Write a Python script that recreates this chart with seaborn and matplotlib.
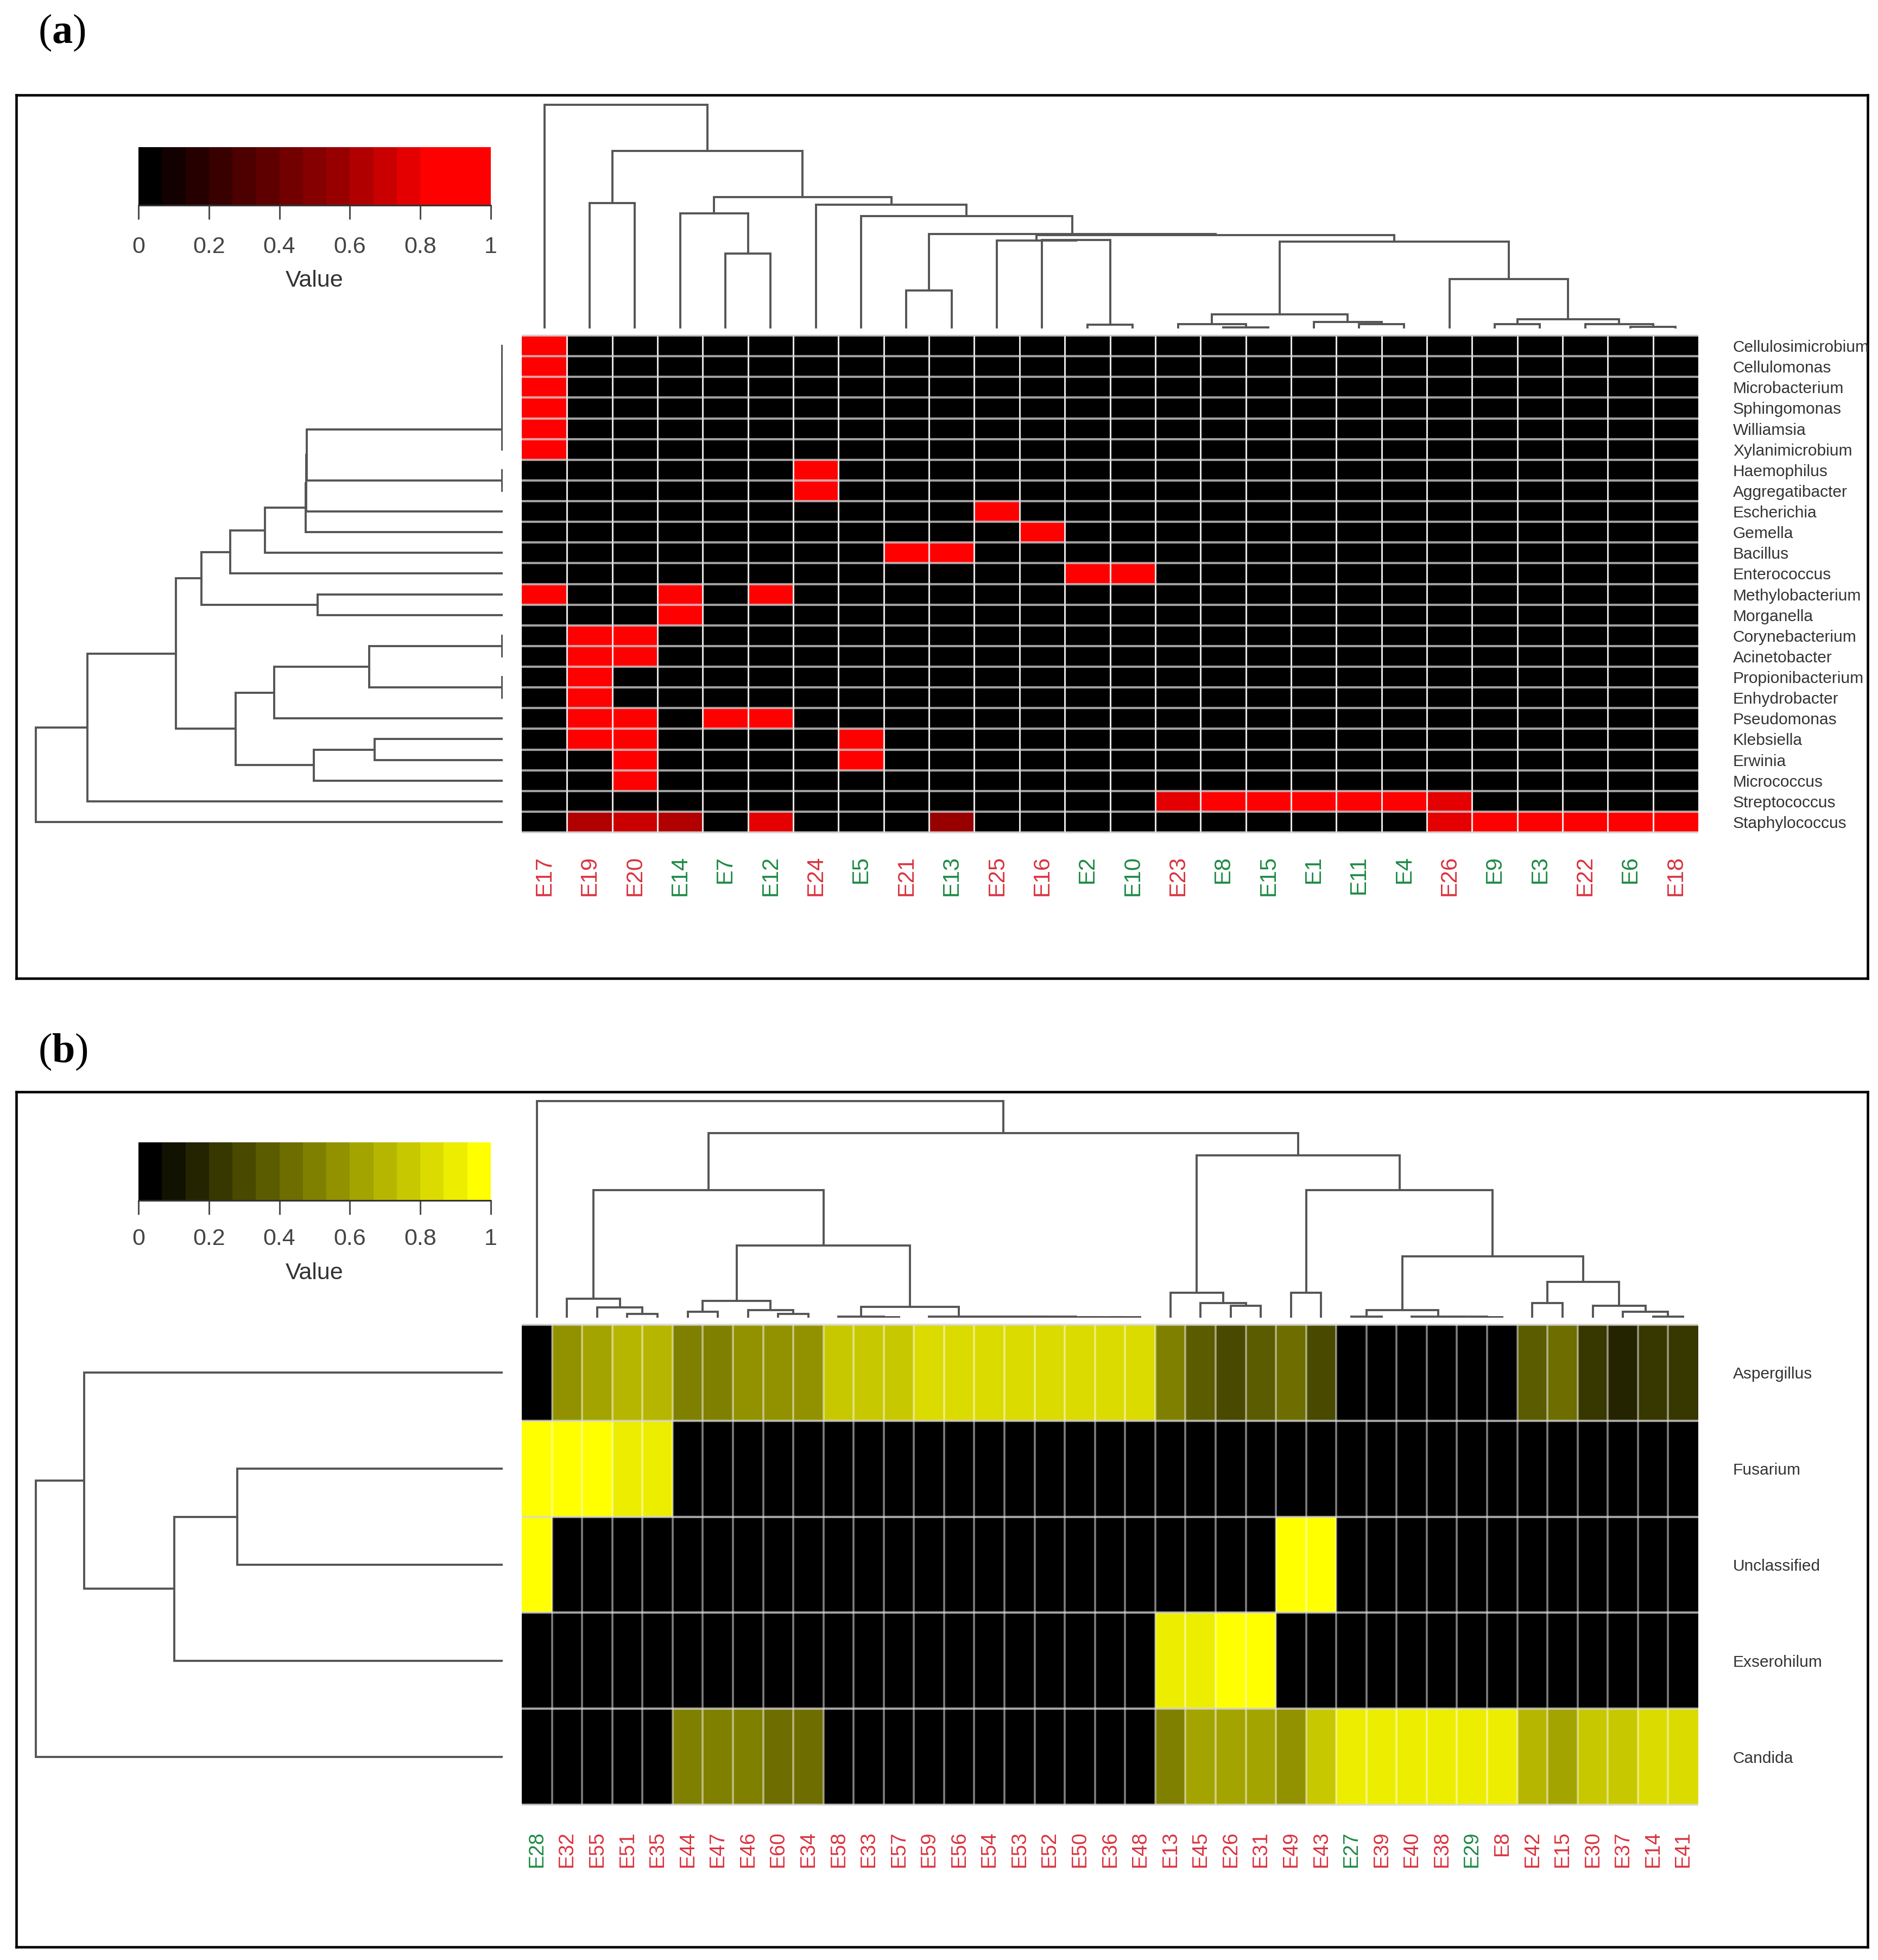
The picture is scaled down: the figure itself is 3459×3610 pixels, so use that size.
import matplotlib
matplotlib.use('Agg')
import matplotlib.pyplot as plt
import numpy as np
import pandas as pd
import seaborn as sns
from matplotlib.colors import LinearSegmentedColormap

W, H = 3459, 3610

sns.set_theme(style='white')
plt.rcParams['font.family'] = ['Liberation Sans', 'DejaVu Sans']
plt.rcParams['mathtext.fontset'] = 'custom'
plt.rcParams['mathtext.rm'] = 'Liberation Serif'
plt.rcParams['mathtext.bf'] = 'Liberation Serif:bold'

# panel (a) bacteria
bact_cols = ['E17', 'E19', 'E20', 'E14', 'E7', 'E12', 'E24', 'E5', 'E21', 'E13', 'E25', 'E16', 'E2',
             'E10', 'E23', 'E8', 'E15', 'E1', 'E11', 'E4', 'E26', 'E9', 'E3', 'E22', 'E6', 'E18']
bact_green = ['E14', 'E7', 'E12', 'E5', 'E13', 'E2', 'E10', 'E8', 'E15', 'E1', 'E11', 'E4', 'E9', 'E3', 'E6']
bact_rows = ['Cellulosimicrobium', 'Cellulomonas', 'Microbacterium', 'Sphingomonas', 'Williamsia',
             'Xylanimicrobium', 'Haemophilus', 'Aggregatibacter', 'Escherichia', 'Gemella', 'Bacillus',
             'Enterococcus', 'Methylobacterium', 'Morganella', 'Corynebacterium', 'Acinetobacter',
             'Propionibacterium', 'Enhydrobacter', 'Pseudomonas', 'Klebsiella', 'Erwinia', 'Micrococcus',
             'Streptococcus', 'Staphylococcus']
# only the non zero cells of each row
bact_cells = {
    'Cellulosimicrobium': {'E17': .97},
    'Cellulomonas': {'E17': .97},
    'Microbacterium': {'E17': .97},
    'Sphingomonas': {'E17': .97},
    'Williamsia': {'E17': .97},
    'Xylanimicrobium': {'E17': .97},
    'Haemophilus': {'E24': .97},
    'Aggregatibacter': {'E24': .97},
    'Escherichia': {'E25': .97},
    'Gemella': {'E16': .97},
    'Bacillus': {'E21': .97, 'E13': .97},
    'Enterococcus': {'E2': .97, 'E10': .97},
    'Methylobacterium': {'E17': .97, 'E14': .97, 'E12': .97},
    'Morganella': {'E14': .97},
    'Corynebacterium': {'E19': .97, 'E20': .97},
    'Acinetobacter': {'E19': .97, 'E20': .97},
    'Propionibacterium': {'E19': .97},
    'Enhydrobacter': {'E19': .97},
    'Pseudomonas': {'E19': .97, 'E20': .97, 'E7': .97, 'E12': .97},
    'Klebsiella': {'E19': .97, 'E20': .97, 'E5': .97},
    'Erwinia': {'E20': .97, 'E5': .97},
    'Micrococcus': {'E20': .97},
    'Streptococcus': {'E23': .77, 'E8': .83, 'E15': .97, 'E1': .97, 'E11': .97, 'E4': .97, 'E26': .77},
    'Staphylococcus': {'E19': .63, 'E20': .70, 'E14': .63, 'E12': .77, 'E13': .57, 'E26': .77,
                       'E9': .83, 'E3': .97, 'E22': .97, 'E6': .97, 'E18': .97},
}

# dendrogram merges, R hclust style: negative = leaf number, positive = earlier merge number
bact_col_left = [-16, -15, -19, -18, 2, -25, -24, -22, 8, -21, 5, -13, -12, -11, 14, -9, 16, -8, -7, -5, -4, 21, -2, 23, -1]
bact_col_right = [-17, 1, -20, 3, 4, -26, 6, -23, 7, 9, 10, -14, 12, 13, 11, -10, 15, 17, 18, -6, 20, 19, -3, 22, 24]
bact_col_height = [2, 8, 8, 12, 26, 3, 8, 8, 17, 91, 160, 7, 163, 162, 172, 70, 174, 207, 228, 138, 212, 242, 231, 327, 412]
bact_row_left = [-1, 1, 2, 3, 4, -7, 5, 7, 8, 9, 10, -13, 11, -15, -17, 14, 16, -20, 18, 17, 13, 21, 22]
bact_row_right = [-2, -3, -4, -5, -6, -8, 6, -9, -10, -11, -12, -14, 12, -16, -18, 15, -19, -21, -22, 19, 20, -23, -24]
bact_row_height = [1, 1, 1, 1, 1, 1, 361, 362, 363, 438, 502, 341, 555, 1, 1, 246, 421, 236, 348, 492, 602, 765, 860]

# panel (b) fungi
fungi_cols = ['E28', 'E32', 'E55', 'E51', 'E35', 'E44', 'E47', 'E46', 'E60', 'E34', 'E58', 'E33', 'E57',
              'E59', 'E56', 'E54', 'E53', 'E52', 'E50', 'E36', 'E48', 'E13', 'E45', 'E26', 'E31', 'E49',
              'E43', 'E27', 'E39', 'E40', 'E38', 'E29', 'E8', 'E42', 'E15', 'E30', 'E37', 'E14', 'E41']
fungi_green = ['E28', 'E27', 'E29']
fungi_rows = ['Aspergillus', 'Fusarium', 'Unclassified', 'Exserohilum', 'Candida']
aspergillus = [0, .57, .63, .70, .70, .50, .50, .57, .57, .57, .77, .77, .77, .83, .83, .83, .83, .83, .83, .83,
               .83, .50, .37, .30, .37, .43, .30, 0, 0, 0, 0, 0, 0, .37, .43, .23, .17, .23, .23]
fusarium = [.97, .97, .97, .90, .90] + [0] * 34
unclassified = [.97] + [0] * 24 + [.97, .97] + [0] * 12
exserohilum = [0] * 21 + [.90, .90, .97, .97] + [0] * 14
candida = [0, 0, 0, 0, 0, .50, .50, .50, .43, .43, 0, 0, 0, 0, 0, 0, 0, 0, 0, 0,
           0, .50, .63, .63, .63, .57, .77, .90, .90, .90, .90, .90, .90, .70, .63, .77, .77, .83, .83]

fungi_col_left = [-4, -3, -2, -6, -9, -8, 4, -12, -11, -20, -19, -18, -17, -16, -15, -14, 9, 7, 3,
                  -24, -23, -22, -26, -28, -32, -31, -30, 24, -34, -38, -37, -36, 29, 28, 23, 22, 19, -1]
fungi_col_right = [-5, 1, 2, -7, -10, 5, 6, -13, 8, -21, 10, 11, 12, 13, 14, 15, 16, 17, 18,
                   -25, 20, 21, -27, -29, -33, 25, 26, 27, -35, -39, 30, 31, 32, 33, 34, 35, 36, 37]
fungi_col_height = [7, 19, 35, 11, 7, 14, 31, 1, 2, 1, 1.5, 1.5, 2, 2, 2, 2, 20, 133, 235,
                    22, 27, 46, 46, 2, 1.5, 2, 2.5, 14, 27, 2, 11, 22, 66, 113, 235, 299, 340, 399]
fungi_row_left = [-2, 1, -1, 3]
fungi_row_right = [-3, -4, 2, -5]
fungi_row_height = [489, 605, 771, 860]

cbar_ticks = [0, .2, .4, .6, .8, 1]
cbar_ticklabels = ['0', '0.2', '0.4', '0.6', '0.8', '1']

red_colors = [(0, 'black'), (.6, '#a00000'), (.86, 'red'), (1, 'red')]
yellow_colors = ['black', 'yellow']


def px_axes(fig, x0, y0, x1, y1, **kw):
    # axes from pixel box, y counted from the top of the picture
    return fig.add_axes([x0 / W, 1 - y1 / H, (x1 - x0) / W, (y1 - y0) / H], **kw)


def dendrogram(ax, left, right, height, vertical):
    # walk the merges and draw one bracket for each
    pos, hgt = {}, {}

    def node(k):
        if k < 0:
            return -k - 0.5, 0
        return pos[k], hgt[k]

    for i, (a, b, h) in enumerate(zip(left, right, height)):
        pa, ha = node(a)
        pb, hb = node(b)
        if vertical:
            ax.plot([pa, pa, pb, pb], [ha, h, h, hb], color='#555555', lw=2.8, solid_joinstyle='miter')
        else:
            ax.plot([ha, h, h, hb], [pa, pa, pb, pb], color='#555555', lw=2.8, solid_joinstyle='miter')
        pos[i + 1] = (pa + pb) / 2
        hgt[i + 1] = h


def panel(fig, df, green, frame_box, heat_box, cbar_y, cbar_pad, top_tree, left_tree, top_base, colors, low, tag,
          tag_y, col_size, col_pad, row_size):
    frame = px_axes(fig, *frame_box, zorder=-1)
    frame.set_xticks([])
    frame.set_yticks([])
    for s in frame.spines.values():
        s.set_linewidth(3.3)
        s.set_color('black')
        s.set_visible(True)

    x0, y0, x1, y1 = heat_box
    nrow, ncol = df.shape
    cmap = LinearSegmentedColormap.from_list('panel', colors, N=15)

    ax = px_axes(fig, x0, y0, x1, y1)
    cax = px_axes(fig, 255, cbar_y, 904, cbar_y + 107)
    sns.heatmap(df, ax=ax, cmap=cmap, vmin=0, vmax=1, cbar_ax=cax, xticklabels=True, yticklabels=True,
                cbar_kws={'orientation': 'horizontal', 'ticks': cbar_ticks})

    # cell borders, paler in the row direction
    ax.vlines(np.arange(1, ncol), 0, nrow, color='white', lw=low[0], alpha=low[1])
    ax.hlines(np.arange(0, nrow + 1), 0, ncol, color='#d8d8d8', lw=3.0, alpha=0.75, clip_on=False)

    ax.set_xlabel('')
    ax.set_ylabel('')
    ax.tick_params(axis='x', length=0, pad=col_pad)
    ax.set_xticklabels(df.columns, rotation=90, fontsize=col_size)
    for t in ax.get_xticklabels():
        t.set_color('#1d8a45' if t.get_text() in green else '#d9333f')
    ax.yaxis.tick_right()
    ax.tick_params(axis='y', length=0, pad=46)
    ax.set_yticklabels(df.index, rotation=0, fontsize=row_size, color='#333333')
    for t in ax.get_yticklabels():
        t.set_clip_box(frame.bbox)
        t.set_clip_on(True)

    cb = ax.collections[0].colorbar
    cb.outline.set_visible(False)
    cb.ax.set_xticks(cbar_ticks, cbar_ticklabels)
    cb.ax.tick_params(axis='x', length=19, width=2.2, color='#4d4d4d', labelsize=31, labelcolor='#444444',
                      pad=cbar_pad, bottom=True)
    cb.ax.axhline(0, color='#333333', lw=2.2, clip_on=False)
    cb.set_label('Value', fontsize=31, color='#333333', labelpad=16)

    top = px_axes(fig, x0, frame_box[1], x1, top_base)
    top.axis('off')
    dendrogram(top, *top_tree, True)
    top.set_xlim(0, ncol)
    top.set_ylim(0, top_base - frame_box[1])

    left = px_axes(fig, frame_box[0], y0, 926, y1)
    left.axis('off')
    dendrogram(left, *left_tree, False)
    left.set_xlim(926 - frame_box[0], 0)
    left.set_ylim(nrow, 0)

    fig.text(70 / W, 1 - tag_y / H, tag, family='Liberation Serif', fontsize=55, color='black', va='center')


fig = plt.figure(figsize=(W / 100, H / 100), dpi=100, facecolor='white')

bact = pd.DataFrame(bact_cells, index=bact_cols).T.fillna(0).loc[bact_rows, bact_cols]
fungi = pd.DataFrame([aspergillus, fusarium, unclassified, exserohilum, candida], index=fungi_rows, columns=fungi_cols)

panel(fig, bact, bact_green, (30, 175, 3440, 1802), (961, 618, 3128, 1533), 271, 22,
      (bact_col_left, bact_col_right, bact_col_height), (bact_row_left, bact_row_right, bact_row_height),
      605, red_colors, (2.2, 0.9), r'($\mathbf{a}$)', 60, 30, 31, 21.5)
panel(fig, fungi, fungi_green, (30, 2011, 3440, 3586), (961, 2440, 3128, 3324), 2104, 18,
      (fungi_col_left, fungi_col_right, fungi_col_height), (fungi_row_left, fungi_row_right, fungi_row_height),
      2427, yellow_colors, (2.6, 0.5), r'($\mathbf{b}$)', 1937, 27, 35, 21.5)

fig.savefig('out.png', dpi=100)
